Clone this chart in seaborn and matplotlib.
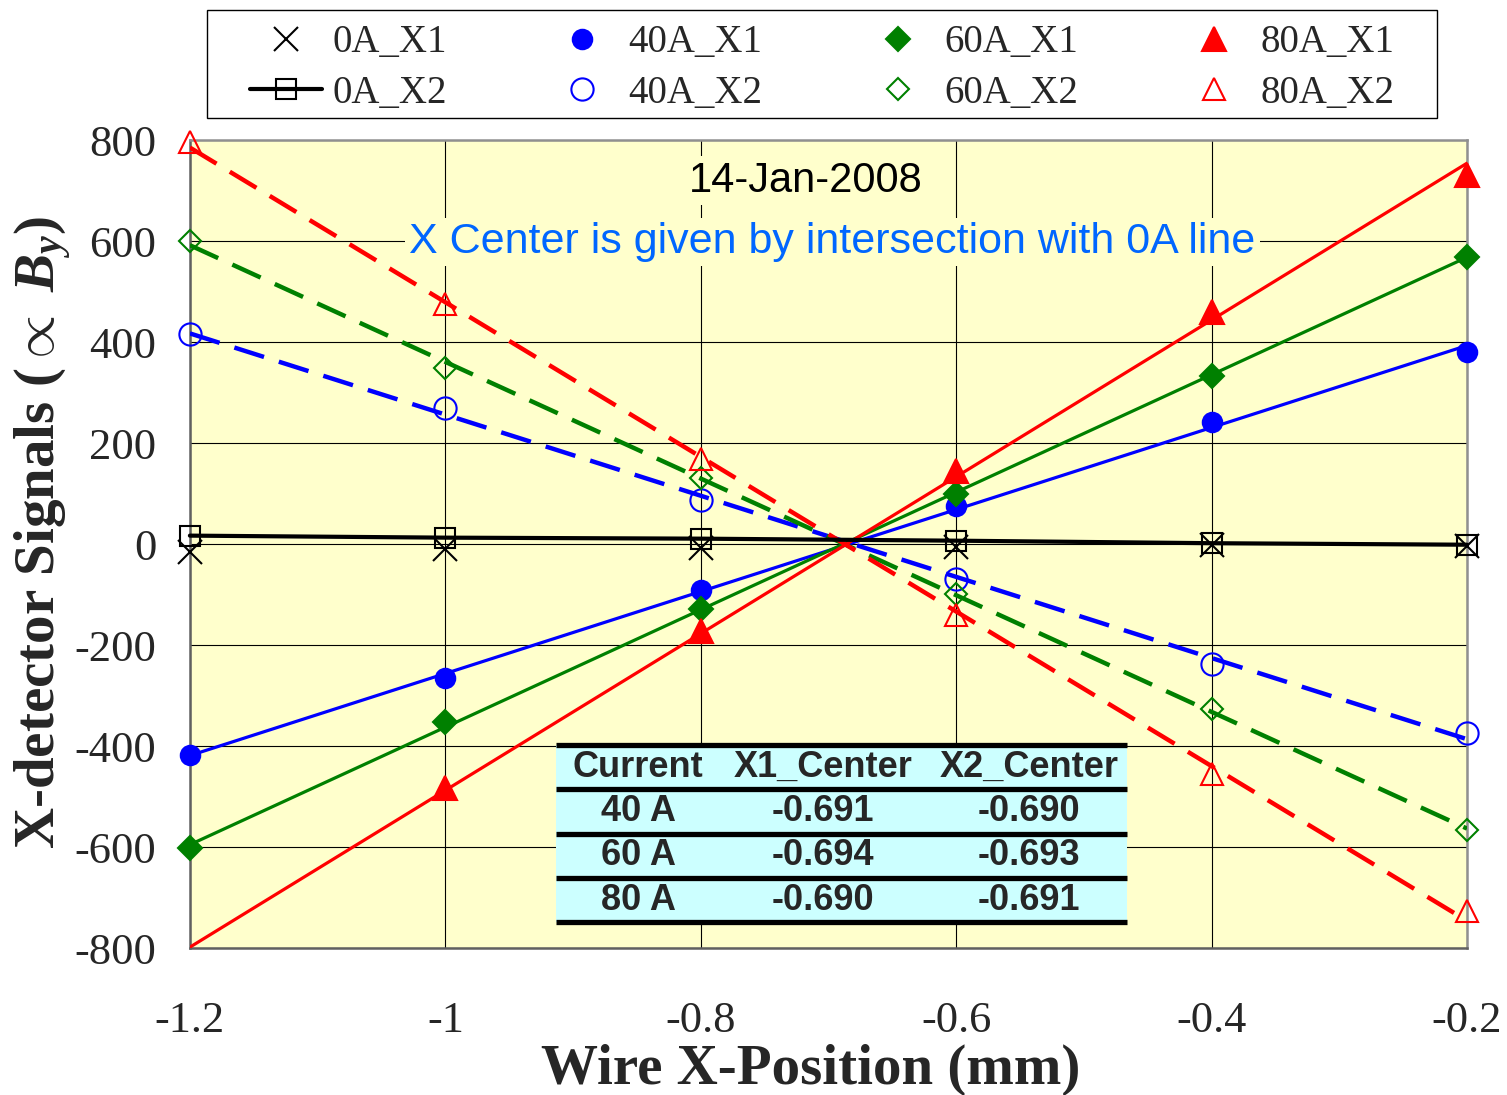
import numpy as np
import matplotlib
matplotlib.use("Agg")
import matplotlib.pyplot as plt
import seaborn as sns
from matplotlib.lines import Line2D
from matplotlib.patches import Rectangle

# ==================================================
# DATA
# ==================================================

positions = [-1.2, -1.0, -0.8, -0.6, -0.4, -0.2]
x_tick_labels = ["-1.2", "-1", "-0.8", "-0.6", "-0.4", "-0.2"]
y_ticks = [-800, -600, -400, -200, 0, 200, 400, 600, 800]

sig_0A_X1 = [-15, -10, -8, -5, -2, -3]
sig_0A_X2 = [17, 13, 11, 7, 2, -1]
sig_40A_X1 = [-418, -265, -91, 76, 242, 381]
sig_40A_X2 = [417, 269, 87, -69, -237, -373]
sig_60A_X1 = [-602, -352, -129, 100, 334, 569]
sig_60A_X2 = [600, 348, 131, -99, -327, -566]
sig_80A_X1 = [-812, -483, -172, 145, 460, 732]
sig_80A_X2 = [797, 476, 168, -141, -455, -726]

currents = ["40 A", "60 A", "80 A"]
x1_center = ["-0.691", "-0.694", "-0.690"]
x2_center = ["-0.690", "-0.693", "-0.691"]

date_text = "14-Jan-2008"
note_text = "X Center is given by intersection with 0A line"

# ==================================================
# STYLE
# ==================================================

sns.set_theme(style="white")
plt.rcParams["font.family"] = ["Liberation Serif", "DejaVu Serif"]
plt.rcParams["axes.unicode_minus"] = False
plt.rcParams["mathtext.fontset"] = "custom"
plt.rcParams["mathtext.rm"] = "Liberation Serif:bold"
plt.rcParams["mathtext.it"] = "Liberation Serif:italic:bold"
plt.rcParams["mathtext.bf"] = "Liberation Serif:bold"

sans = "Liberation Sans"
W, H = 1507, 1095

fig = plt.figure(figsize=(W / 100, H / 100), dpi=100)
ax = fig.add_axes([0.126, 0.134, 0.8475, 0.738])
ax.set_facecolor("#FFFFCC")

# name, values, colour, marker, filled, marker size, trend style
series = [
    ("0A_X1", sig_0A_X1, "black", "x", True, 17, None),
    ("0A_X2", sig_0A_X2, "black", "s", False, 15, "connect"),
    ("40A_X1", sig_40A_X1, "#0000FF", "o", True, 14, "solid"),
    ("40A_X2", sig_40A_X2, "#0000FF", "o", False, 16, "dashed"),
    ("60A_X1", sig_60A_X1, "#008000", "D", True, 12, "solid"),
    ("60A_X2", sig_60A_X2, "#008000", "D", False, 11.5, "dashed"),
    ("80A_X1", sig_80A_X1, "#FF0000", "^", True, 17, "solid"),
    ("80A_X2", sig_80A_X2, "#FF0000", "^", False, 16, "dashed"),
]

x = np.array(positions)
handles = []
for name, vals, color, marker, filled, ms, trend in series:
    y = np.array(vals, dtype=float)
    face = color if filled else "none"
    mew = 1.5

    if trend == "solid":
        sns.regplot(x=x, y=y, ax=ax, scatter=False, ci=None, color=color,
                    line_kws=dict(lw=2.3, zorder=3))
    elif trend == "dashed":
        sns.regplot(x=x, y=y, ax=ax, scatter=False, ci=None, color=color,
                    line_kws=dict(lw=3.2, dashes=(7, 3.5), zorder=3))

    # Excel does not draw points outside the axis range
    inside = (y >= y_ticks[0]) & (y <= y_ticks[-1])
    if trend == "connect":
        ax.plot(x, y, color=color, lw=3, marker=marker, ms=ms, mfc=face,
                mec=color, mew=mew, clip_on=False, zorder=4)
        handles.append(Line2D([], [], color=color, lw=3, marker=marker, ms=ms,
                              mfc=face, mec=color, mew=mew))
    else:
        ax.plot(x[inside], y[inside], ls="none", marker=marker, ms=ms,
                mfc=face, mec=color, mew=mew, clip_on=False, zorder=4)
        handles.append(Line2D([], [], ls="none", marker=marker, ms=ms,
                              mfc=face, mec=color, mew=mew))

# ==================================================
# AXES
# ==================================================

ax.set_xlim(positions[0], positions[-1])
ax.set_ylim(y_ticks[0], y_ticks[-1])
ax.set_xticks(positions)
ax.set_xticklabels(x_tick_labels)
ax.set_yticks(y_ticks)
ax.set_yticklabels([str(v) for v in y_ticks])
ax.tick_params(axis="x", direction="out", length=7, width=1, color="black",
               pad=31, labelsize=32)
ax.tick_params(axis="y", direction="out", length=7, width=1, color="black",
               pad=17, labelsize=32)
ax.grid(True, color="black", lw=0.8)
ax.set_axisbelow(True)
for side in ["top", "right"]:
    ax.spines[side].set_color("#909090")
    ax.spines[side].set_linewidth(1.8)
for side in ["left", "bottom"]:
    ax.spines[side].set_color("#606060")
    ax.spines[side].set_linewidth(1.8)

ax.set_xlabel("Wire X-Position (mm)", fontsize=41, fontweight="bold")
ax.xaxis.set_label_coords(0.486, -0.118)
ax.set_ylabel(r"X-detector Signals ($\propto$ $B_y$)", fontsize=41,
              fontweight="bold")
ax.yaxis.set_label_coords(-0.091, 0.515)

# ==================================================
# ANNOTATIONS
# ==================================================

ax.text(0.482, 0.950, date_text, transform=ax.transAxes, ha="center",
        va="center", fontsize=30, family=sans, color="black", zorder=5,
        bbox=dict(facecolor="#FFFFCC", edgecolor="none", pad=3))
ax.text(0.503, 0.874, note_text, transform=ax.transAxes, ha="center",
        va="center", fontsize=31, family=sans, color="#0066FF", zorder=5,
        bbox=dict(facecolor="#FFFFCC", edgecolor="none", pad=3))

# table of centers
tx0, tx1 = 0.287, 0.734
row_lines = [0.251, 0.197, 0.142, 0.087, 0.032]
ax.add_patch(Rectangle((tx0, row_lines[-1]), tx1 - tx0,
                       row_lines[0] - row_lines[-1], transform=ax.transAxes,
                       facecolor="#CCFFFF", edgecolor="none", zorder=6))
for yy in row_lines:
    ax.plot([tx0, tx1], [yy, yy], transform=ax.transAxes, color="black",
            lw=3.8, solid_capstyle="butt", zorder=7, clip_on=False)

col_x = [0.351, 0.496, 0.657]
header = ["Current", "X1_Center", "X2_Center"]
rows = [header] + [list(r) for r in zip(currents, x1_center, x2_center)]
for i, row in enumerate(rows):
    yc = (row_lines[i] + row_lines[i + 1]) / 2
    for cx, txt in zip(col_x, row):
        ax.text(cx, yc, txt, transform=ax.transAxes, ha="center", va="center",
                fontsize=26, fontweight="bold", family=sans, zorder=8)

# ==================================================
# LEGEND
# ==================================================

box_l, box_r, box_t, box_b = 207, 1437, 10, 118
fig.add_artist(Rectangle((box_l / W, 1 - box_b / H), (box_r - box_l) / W,
                         (box_b - box_t) / H, transform=fig.transFigure,
                         facecolor="white", edgecolor="black", lw=1.0))
leg = fig.legend(handles, [s[0] for s in series], ncol=4, loc="center",
                 bbox_to_anchor=((box_l + box_r) / 2 / W, 1 - 68 / H),
                 frameon=False, fontsize=28, handlelength=1.87,
                 handletextpad=0.25, labelspacing=0.35, columnspacing=2.56,
                 borderpad=0, borderaxespad=0)

fig.savefig("out.png", dpi=100)
